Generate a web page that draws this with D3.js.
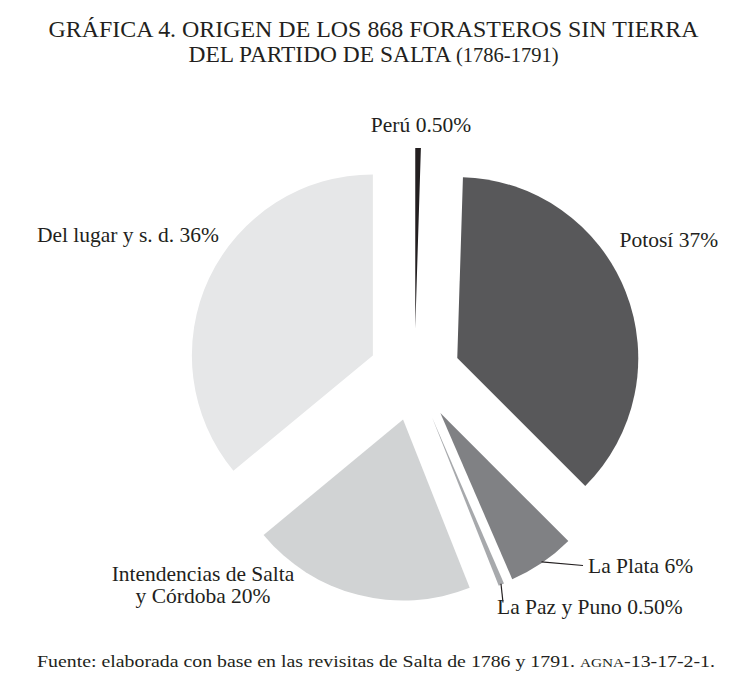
<!DOCTYPE html>
<html lang="es">
<head>
    <meta charset="utf-8">
    <title>Gráfica 4. Origen de los 868 forasteros sin tierra</title>
    <script src="https://cdnjs.cloudflare.com/ajax/libs/d3/7.8.5/d3.min.js"></script>
    <style>
        body { margin: 0; background: #fff; }
        svg { display: block; }
        text { font-family: "Liberation Serif", "DejaVu Serif", serif; fill: #231f20; }
    </style>
</head>
<body>
    <svg width="747" height="685"></svg>

    <script>
        // datos (porcentajes)
        const categories = ["Perú", "Potosí", "La Plata", "La Paz y Puno", "Intendencias de Salta y Córdoba", "Del lugar y s. d."];
        const percents = [0.5, 37, 6, 0.5, 20, 36];
        const labelLines = [
            ["Perú 0.50%"],
            ["Potosí 37%"],
            ["La Plata 6%"],
            ["La Paz y Puno 0.50%"],
            ["Intendencias de Salta", "y Córdoba 20%"],
            ["Del lugar y s. d. 36%"]
        ];

        const svg = d3.select("svg"),
              width = +svg.attr("width"),
              height = +svg.attr("height");

        const cx = 414.5, cy = 375,
              radius = 181,
              explode = 46;

        const color = d3.scaleOrdinal()
            .domain(categories)
            .range(["#231f20", "#58585a", "#808184", "#a7a9ac", "#d1d3d4", "#e6e7e8"]);

        // posicion de etiquetas, relativa al centro del pastel
        const labelPos = {
            "Perú": { dx: 6.5, dy: -243, anchor: "middle" },
            "Potosí": { dx: 205, dy: -128, anchor: "start" },
            "La Plata": { dx: 173.5, dy: 198, anchor: "start", leader: [168.5, 190.5] },
            "La Paz y Puno": { dx: 82.5, dy: 239, anchor: "start", leader: [88.5, 227.5] },
            "Intendencias de Salta y Córdoba": { dx: -211.5, dy: 206, anchor: "middle" },
            "Del lugar y s. d.": { dx: -195.5, dy: -133, anchor: "end" }
        };

        // titulo
        const title = svg.append("g").attr("class", "title");
        title.append("text")
            .attr("x", width / 2)
            .attr("y", 37)
            .attr("text-anchor", "middle")
            .attr("font-size", 24)
            .attr("textLength", 650)
            .attr("lengthAdjust", "spacingAndGlyphs")
            .text("GRÁFICA 4. ORIGEN DE LOS 868 FORASTEROS SIN TIERRA");

        const t2 = title.append("text")
            .attr("x", width / 2)
            .attr("y", 62)
            .attr("text-anchor", "middle")
            .attr("font-size", 24)
            .attr("textLength", 370)
            .attr("lengthAdjust", "spacingAndGlyphs");
        t2.append("tspan").text("DEL PARTIDO DE SALTA ");
        t2.append("tspan").attr("font-size", 21).text("(1786-1791)");

        // pastel
        const pie = d3.pie().sort(null).value(d => d);
        const arcs = pie(percents).map((d, i) => Object.assign(d, { name: categories[i], lines: labelLines[i] }));

        const arc = d3.arc().innerRadius(0).outerRadius(radius);

        const offset = d => {
            const a = (d.startAngle + d.endAngle) / 2;
            return [Math.sin(a) * explode, -Math.cos(a) * explode];
        };

        const g = svg.append("g").attr("transform", `translate(${cx},${cy})`);

        g.append("g")
            .attr("class", "slices")
            .selectAll("path")
            .data(arcs)
            .enter().append("path")
            .attr("transform", d => `translate(${offset(d)})`)
            .attr("d", arc)
            .attr("fill", d => color(d.name));

        // lineas guia
        const leaderArcs = arcs.filter(d => labelPos[d.name].leader);
        g.append("g")
            .attr("class", "leaders")
            .selectAll("line")
            .data(leaderArcs)
            .enter().append("line")
            .attr("x1", d => {
                const a = (d.startAngle + d.endAngle) / 2;
                return offset(d)[0] + Math.sin(a) * (radius - 1);
            })
            .attr("y1", d => {
                const a = (d.startAngle + d.endAngle) / 2;
                return offset(d)[1] - Math.cos(a) * (radius - 1);
            })
            .attr("x2", d => labelPos[d.name].leader[0])
            .attr("y2", d => labelPos[d.name].leader[1])
            .attr("stroke", "#231f20")
            .attr("stroke-width", 1.2);

        // etiquetas
        const labels = g.append("g")
            .attr("class", "labels")
            .selectAll("text")
            .data(arcs)
            .enter().append("text")
            .attr("font-size", 21.5)
            .attr("text-anchor", d => labelPos[d.name].anchor);

        labels.selectAll("tspan")
            .data(d => d.lines.map((line, j) => ({ line, j, p: labelPos[d.name] })))
            .enter().append("tspan")
            .attr("x", d => d.p.dx)
            .attr("y", d => d.p.dy + d.j * 22)
            .text(d => d.line);

        // fuente
        const src = svg.append("text")
            .attr("x", 37)
            .attr("y", 667)
            .attr("font-size", 17.5)
            .attr("textLength", 678)
            .attr("lengthAdjust", "spacingAndGlyphs");
        src.append("tspan").text("Fuente: elaborada con base en las revisitas de Salta de 1786 y 1791. ");
        src.append("tspan").attr("font-size", 13.5).text("AGNA");
        src.append("tspan").text("-13-17-2-1.");
    </script>
</body>
</html>
